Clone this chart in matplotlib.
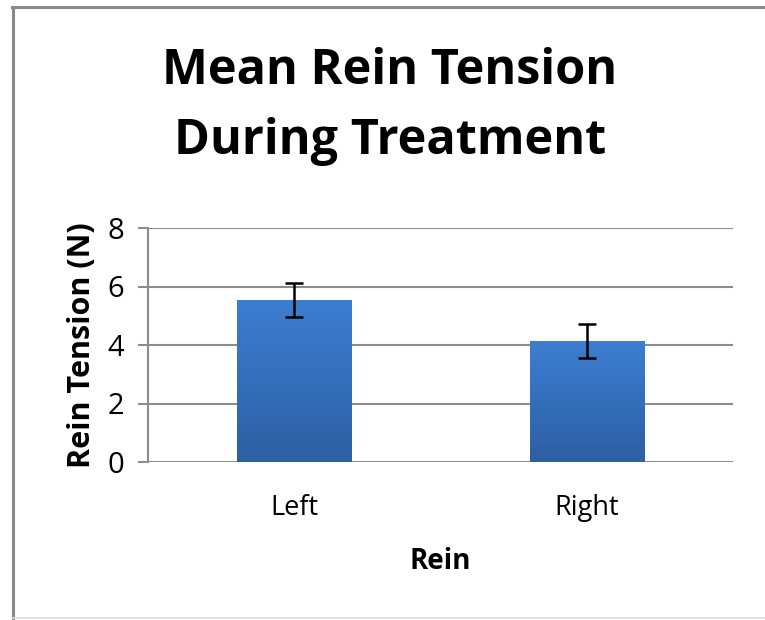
import numpy as np
import matplotlib
matplotlib.use("Agg")
import matplotlib.pyplot as plt
from matplotlib.lines import Line2D

plt.rcParams['font.family'] = ['Open Sans', 'DejaVu Sans']

# data
reins = ["Left", "Right"]
tension = [5.55, 4.15]
err = [0.58, 0.58]
yticks = [0, 2, 4, 6, 8]

W, H = 765, 620
fig = plt.figure(figsize=(W / 100, H / 100), dpi=100)

# outer frame like the spreadsheet chart border
fig.add_artist(Line2D([12 / W, 1.0], [1 - 7 / H, 1 - 7 / H], color="#8a8a8a", lw=2.2))
fig.add_artist(Line2D([13 / W, 13 / W], [1 - 7 / H, 0.0], color="#8a8a8a", lw=2.2))
fig.add_artist(Line2D([13 / W, 1.0], [2 / H, 2 / H], color="#dddddd", lw=1.2))

ax = fig.add_axes([148 / W, 1 - 462 / H, (733 - 148) / W, (462 - 228) / H])
x = np.arange(len(reins))
bars = ax.bar(x, tension, width=0.39, color="#3470c0", zorder=2)

# vertical gradient on each bar
grad = np.linspace(0, 1, 256).reshape(-1, 1)
cmap = matplotlib.colors.LinearSegmentedColormap.from_list("b", ["#2d5fa3", "#3c7ed2"])
for b in bars:
    bx, by = b.get_x(), b.get_y()
    im = ax.imshow(grad, extent=[bx, bx + b.get_width(), by, by + b.get_height()],
                   origin="lower", cmap=cmap, aspect="auto", zorder=2.5)
    im.set_clip_path(b)

ax.errorbar(x, tension, yerr=err, fmt="none", ecolor="black", elinewidth=1.8,
            capsize=6.5, capthick=1.8, zorder=3)

ax.set_xlim(-0.5, 1.5)
ax.set_ylim(0, 8)
ax.set_yticks(yticks)
ax.set_xticks(x)
ax.set_xticklabels(reins)
ax.yaxis.grid(True, color="#8c8c8c", lw=1.5, zorder=1)
ax.set_axisbelow(True)
for s in ["top", "right", "bottom"]:
    ax.spines[s].set_visible(False)
ax.spines["left"].set_color("#8c8c8c")
ax.spines["left"].set_linewidth(1.5)
ax.tick_params(axis="y", length=7, width=1.5, color="#8c8c8c", labelsize=21, pad=10)
ax.tick_params(axis="x", length=0, labelsize=19.5, pad=23)
ax.set_ylabel("Rein Tension (N)", fontsize=22, fontweight="bold", labelpad=8)
ax.set_xlabel("Rein", fontsize=20, fontweight="bold", labelpad=18)

fig.text(390 / W, 1 - 72 / H, "Mean Rein Tension", ha="center", va="center",
         fontsize=35, fontweight="bold")
fig.text(390 / W, 1 - 142 / H, "During Treatment", ha="center", va="center",
         fontsize=35, fontweight="bold")

fig.savefig("out.png", dpi=100, facecolor="white")
